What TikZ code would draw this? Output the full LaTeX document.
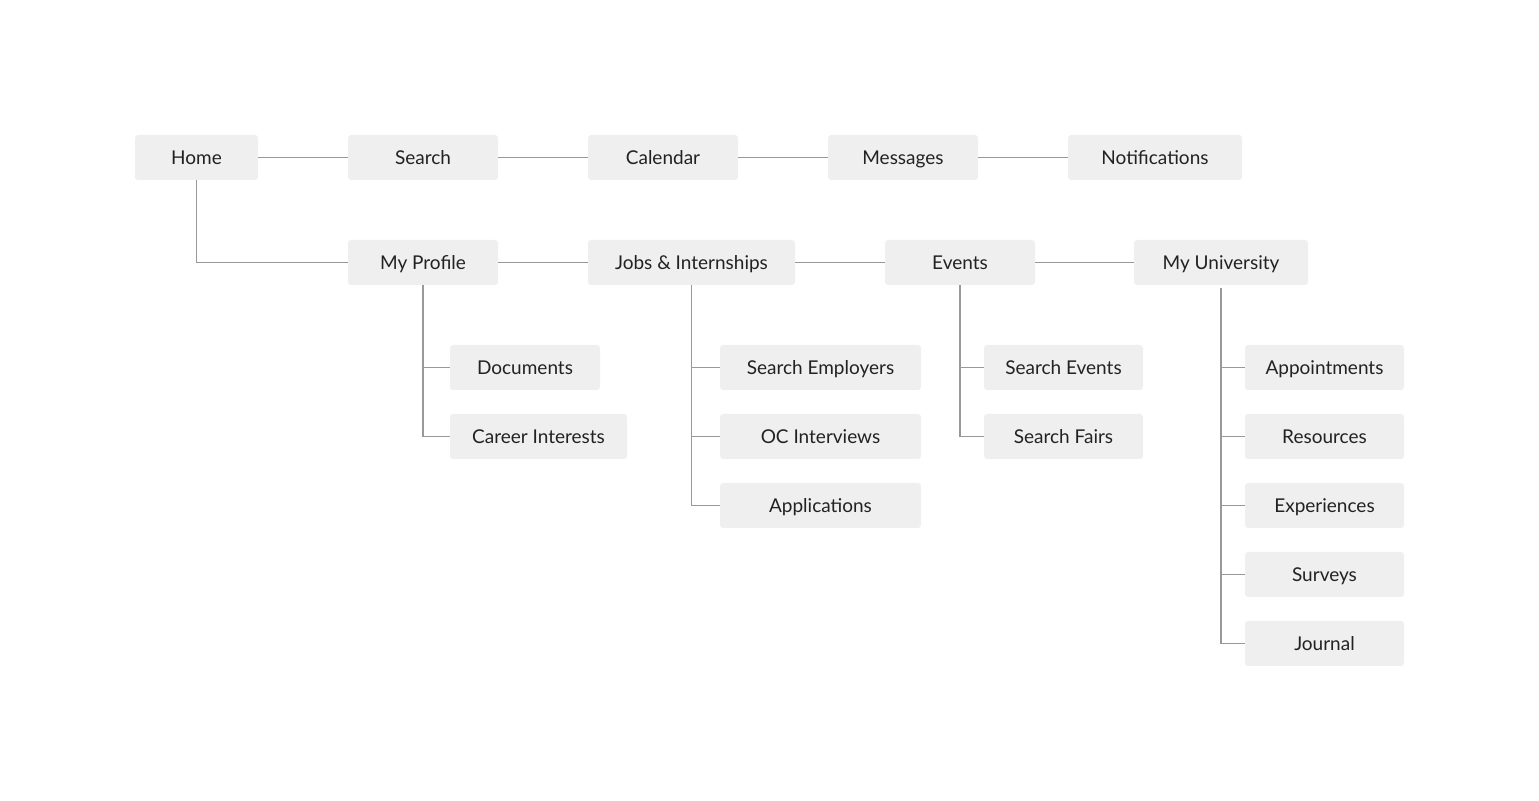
\documentclass[tikz,border=0pt]{standalone}
\usepackage{fontspec}
\setmainfont{Lato}
\usepackage{xcolor}
\usepackage{tikz}
\usetikzlibrary{positioning,calc}

\definecolor{boxgray}{HTML}{EFEFEF}
\definecolor{linkgray}{HTML}{999999}
\definecolor{labelgray}{HTML}{222222}

\begin{document}
\begin{tikzpicture}[x=0.5pt, y=-0.5pt, link/.style = {draw=linkgray, line width=0.9pt}]
		\tikzset{box/.style={rectangle, inner sep=0pt, fill=boxgray, rounded corners=1.5pt, minimum height=22.5pt, text=labelgray, text centered, font=\fontsize{9.5}{11}\selectfont, text height=6.8pt, text depth=0pt}}

		\useasboundingbox (0,0) rectangle (1539,801);

		% Top row
		\node[box, minimum width=61.5pt] at (196.5,157.5) (home) {Home};

		\node[box, minimum width=75pt] at (423,157.5) (search) {Search};

		\node[box, minimum width=75pt] at (663,157.5) (calendar) {Calendar};

		\node[box, minimum width=75pt] at (903,157.5) (messages) {Messages};

		\node[box, minimum width=87pt] at (1155,157.5) (notifications) {Notifications};

		% Second row
		\node[box, minimum width=75pt] at (423,262.5) (profile) {My Profile};

		\node[box, minimum width=103.5pt] at (691.5,262.5) (jobs) {Jobs \& Internships};

		\node[box, minimum width=75pt] at (960,262.5) (events) {Events};

		\node[box, minimum width=87pt] at (1221,262.5) (university) {My University};

		% My Profile
		\node[box, minimum width=75pt] at (525,367.5) (documents) {Documents};

		\node[box, minimum width=88.5pt] at (538.5,436.5) (career) {Career Interests};

		% Jobs & Internships
		\node[box, minimum width=100.5pt] at (820.5,367.5) (employers) {Search Employers};

		\node[box, minimum width=100.5pt] at (820.5,436.5) (interviews) {OC Interviews};

		\node[box, minimum width=100.5pt] at (820.5,505.5) (applications) {Applications};

		% Events
		\node[box, minimum width=79.5pt] at (1063.5,367.5) (searchevents) {Search Events};

		\node[box, minimum width=79.5pt] at (1063.5,436.5) (fairs) {Search Fairs};

		% My University
		\node[box, minimum width=79.5pt] at (1324.5,367.5) (appointments) {Appointments};

		\node[box, minimum width=79.5pt] at (1324.5,436.5) (resources) {Resources};

		\node[box, minimum width=79.5pt] at (1324.5,505.5) (experiences) {Experiences};

		\node[box, minimum width=79.5pt] at (1324.5,574.5) (surveys) {Surveys};

		\node[box, minimum width=79.5pt] at (1324.5,643.5) (journal) {Journal};

		% Links

		\draw [link] (home) -- (search);
		\draw [link] (search) -- (calendar);
		\draw [link] (calendar) -- (messages);
		\draw [link] (messages) -- (notifications);

		\draw [link] (home.south) |- (profile.west);
		\draw [link] (profile) -- (jobs);
		\draw [link] (jobs) -- (events);
		\draw [link] (events) -- (university);

		\draw [link] (profile.south) |- (documents.west);
		\draw [link] (profile.south) |- (career.west);

		\draw [link] (jobs.south) |- (employers.west);
		\draw [link] (jobs.south) |- (interviews.west);
		\draw [link] (jobs.south) |- (applications.west);

		\draw [link] (events.south) |- (searchevents.west);
		\draw [link] (events.south) |- (fairs.west);

		\draw [link] ($(university.south)+(0,3)$) |- (appointments.west);
		\draw [link] ($(university.south)+(0,3)$) |- (resources.west);
		\draw [link] ($(university.south)+(0,3)$) |- (experiences.west);
		\draw [link] ($(university.south)+(0,3)$) |- (surveys.west);
		\draw [link] ($(university.south)+(0,3)$) |- (journal.west);

	\end{tikzpicture}
\end{document}
